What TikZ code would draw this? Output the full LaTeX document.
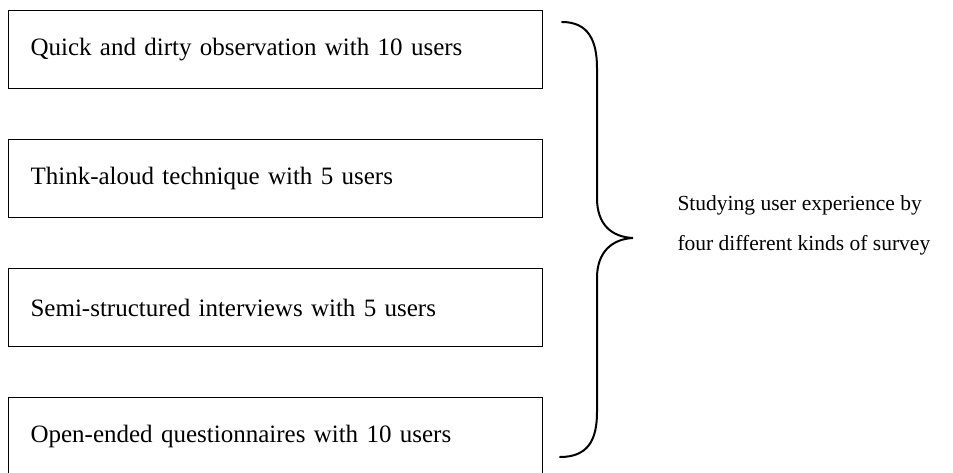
\documentclass[tikz,border=0pt]{standalone}
\usepackage{fontspec}
\setmainfont{Liberation Serif}
\begin{document}
\begin{tikzpicture}[x=1pt,y=-1pt,
  method/.style={draw=black, line width=1.1pt, anchor=north west,
    minimum width=534pt, minimum height=78pt, inner xsep=22pt,
    text width=490pt, align=left, font=\fontsize{25}{30}\selectfont},
  bracepath/.style={draw=black, line width=2pt, line cap=round},
  summary/.style={anchor=west, align=left, font=\fontsize{21.5}{40}\selectfont}]
  \useasboundingbox (0,0) rectangle (953,472);
  \clip (0,0) rectangle (953,472);

  % the four survey methods
  \node[method] (m1) at (8,10)  {Quick and dirty observation with 10 users};
  \node[method] (m2) at (8,139) {Think-aloud technique with 5 users};
  \node[method] (m3) at (8,268) {Semi-structured interviews with 5 users};
  \node[method] (m4) at (8,397) {Open-ended questionnaires with 10 users};

  % curly brace grouping the methods
  \coordinate (btop) at (562,22);
  \coordinate (btip) at (633,238);
  \coordinate (bbot) at (560,457);
  \draw[bracepath] (btop)
    .. controls (588,22) and (597,40) .. (597,68)
    -- (597,198)
    .. controls (597,225) and (612,237) .. (btip)
    .. controls (612,239) and (597,252) .. (597,278)
    -- (597,412)
    .. controls (597,440) and (588,457) .. (bbot);

  % what the methods are for
  \node[summary] (goal) at (674,225)
    {Studying user experience by\\four different kinds of survey};
\end{tikzpicture}
\end{document}
